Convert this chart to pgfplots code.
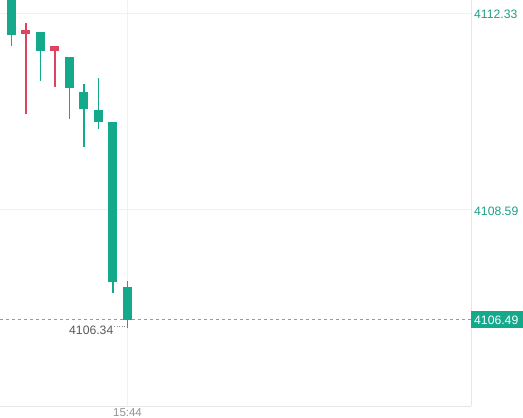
\documentclass[border=0pt]{standalone}
\usepackage{pgfplots}
\usepackage{pgfplotstable}
\usepackage{fontspec}
\setmainfont{Liberation Sans}
\pgfplotsset{compat=1.18}

\definecolor{cgreen}{HTML}{14A98B}
\definecolor{cred}{HTML}{DC4560}
\definecolor{cteal}{HTML}{1F9E86}
\definecolor{cgrid}{HTML}{F0F1F3}
\definecolor{cline}{HTML}{E4E6E9}

% x open high low close  (falling candles)
\pgfplotstableread{
x open high low close
1 4112.80 4112.85 4111.71 4111.92
3 4111.97 4111.97 4111.04 4111.61
5 4111.49 4111.49 4110.33 4110.90
6 4110.85 4110.98 4109.78 4110.52
7 4110.50 4111.11 4110.14 4110.26
8 4110.26 4110.26 4107.00 4107.21
9 4107.13 4107.23 4106.34 4106.49
}\downcandles

% rising candles
\pgfplotstableread{
x open high low close
2 4111.93 4112.14 4110.41 4112.01
4 4111.61 4111.70 4110.94 4111.70
}\upcandles

\begin{document}
\begin{tikzpicture}
  \begin{axis}[
    at={(0,0)}, anchor=north west,
    scale only axis,
    width=471bp, height=406bp,
    xmin=0.207, xmax=32.69,
    ymin=4104.85, ymax=4112.577,
    clip mode=individual,
    axis x line=bottom, axis y line=right,
    x axis line style={-, draw=cline},
    y axis line style={-, draw=cline},
    major tick length=0pt,
    tick style={draw=none},
    xtick={9}, xticklabels={15:44},
    ytick={4108.59,4112.33}, yticklabels={4108.59,4112.33},
    grid=major,
    major grid style={draw=cgrid, line width=0.8bp},
    xticklabel style={inner sep=0pt, yshift=-2bp, text=gray!85,
      font=\fontsize{11.5bp}{13bp}\selectfont},
    yticklabel style={inner sep=0pt, anchor=west, xshift=3bp, yshift=-1.5bp,
      text=cteal, font=\fontsize{12.2bp}{14bp}\selectfont},
  ]
    % current price line
    \draw[cgreen!75, line width=0.7bp, dash pattern=on 3bp off 3bp]
      (axis cs:0.207,4106.49) -- (axis cs:32.69,4106.49);

    % wicks
    \addplot[draw=none, error bars/.cd, y dir=both, y explicit, error mark=none,
      error bar style={draw=cgreen, line width=1.2bp}]
      table[x=x, y expr=(\thisrow{high}+\thisrow{low})/2,
            y error expr=(\thisrow{high}-\thisrow{low})/2] {\downcandles};
    \addplot[draw=none, error bars/.cd, y dir=both, y explicit, error mark=none,
      error bar style={draw=cred, line width=1.2bp}]
      table[x=x, y expr=(\thisrow{high}+\thisrow{low})/2,
            y error expr=(\thisrow{high}-\thisrow{low})/2] {\upcandles};

    % bodies
    \addplot[draw=none, error bars/.cd, y dir=both, y explicit, error mark=none,
      error bar style={draw=cgreen, line width=9bp}]
      table[x=x, y expr=(\thisrow{open}+\thisrow{close})/2,
            y error expr=abs(\thisrow{open}-\thisrow{close})/2] {\downcandles};
    \addplot[draw=none, error bars/.cd, y dir=both, y explicit, error mark=none,
      error bar style={draw=cred, line width=9bp}]
      table[x=x, y expr=(\thisrow{open}+\thisrow{close})/2,
            y error expr=abs(\thisrow{open}-\thisrow{close})/2] {\upcandles};

    % low marker
    \node[anchor=east, inner sep=0pt, text=black!65,
      font=\fontsize{12.2bp}{14bp}\selectfont]
      at ([xshift=-14bp, yshift=-3bp]axis cs:9,4106.34) {4106.34};
    \draw[black!45, line width=0.6bp, dash pattern=on 0.8bp off 1.6bp]
      ([xshift=-13bp, yshift=1bp]axis cs:9,4106.34) -- ([xshift=-3bp, yshift=1bp]axis cs:9,4106.34);

    % current price box
    \node[anchor=west, fill=cgreen, text=white, inner xsep=3bp, inner ysep=0pt,
      minimum height=17bp, text width=56bp, align=left,
      font=\fontsize{12.2bp}{14bp}\selectfont]
      at (axis cs:32.69,4106.49) {4106.49};
  \end{axis}
  \pgfresetboundingbox
  \path (0,0) rectangle (523bp,-418bp);
\end{tikzpicture}
\end{document}
